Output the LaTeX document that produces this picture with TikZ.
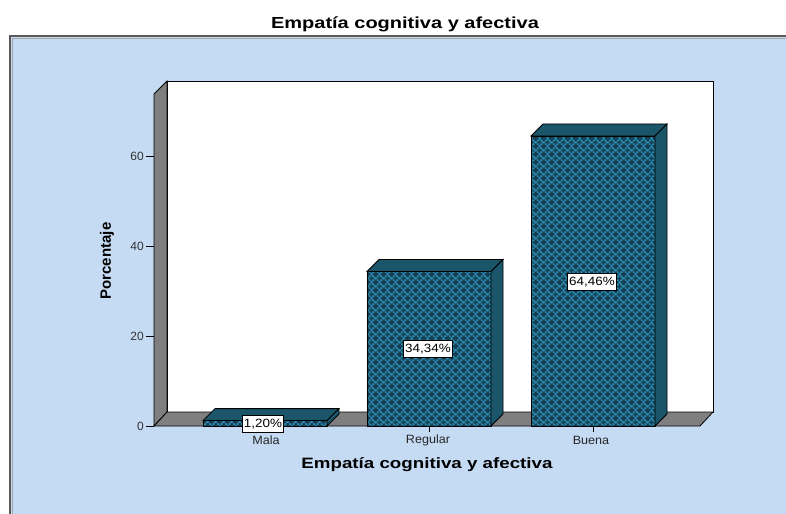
\documentclass[tikz,border=0pt]{standalone}
\usepackage{fontspec}
\setmainfont{Liberation Sans}
\usetikzlibrary{patterns}
\definecolor{panelblue}{HTML}{C5DBF4}
\definecolor{panelline}{HTML}{5A5A5A}
\definecolor{barfront}{HTML}{2A97C0}
\definecolor{crossdark}{HTML}{173F52}
\definecolor{bardark}{HTML}{1B5569}
\definecolor{wallgray}{HTML}{7F7F7F}
\newcommand\pcross[2]{%
  \pgfpathrectangle{\pgfpoint{#1pt-2.2pt}{#2pt-0.7pt}}{\pgfpoint{4.4pt}{1.4pt}}%
  \pgfpathrectangle{\pgfpoint{#1pt-0.7pt}{#2pt-2.2pt}}{\pgfpoint{1.4pt}{4.4pt}}%
}
\pgfdeclarepatternformonly{spssplus}{\pgfpointorigin}{\pgfpoint{6pt}{6pt}}{\pgfpoint{6pt}{6pt}}{%
  \pcross{3}{3}\pcross{0}{0}\pcross{6}{0}\pcross{0}{6}\pcross{6}{6}%
  \pgfusepath{fill}%
}
\newcommand\drawspssbar[2]{%
  \pgfmathsetmacro\bt{426-4.5*#2}%
  \fill[barfront] (#1,\bt) rectangle (#1+124,426);
  \fill[pattern=spssplus, pattern color=crossdark] (#1,\bt) rectangle (#1+124,426);
  \draw[edge] (#1,\bt) rectangle (#1+124,426);
  \filldraw[edge, fill=bardark] (#1,\bt) -- (#1+12,\bt-12) -- (#1+136,\bt-12) -- (#1+124,\bt) -- cycle;
  \filldraw[edge, fill=bardark] (#1+124,\bt) -- (#1+136,\bt-12) -- (#1+136,414) -- (#1+124,426) -- cycle;
}
\begin{document}
\begin{tikzpicture}[x=0.75pt, y=-0.75pt,
  edge/.style={draw=black, line width=0.6pt},
  pct/.style={draw=black, fill=white, line width=0.5pt, inner xsep=1pt, inner ysep=2.6pt, xscale=1.12,
    font=\fontsize{9}{10}\selectfont},
  ticklbl/.style={anchor=east, inner sep=0pt, text=black!80,
    font=\fontsize{9}{10}\selectfont},
  catlbl/.style={inner sep=0pt, xscale=1.05, text=black!85,
    font=\fontsize{9}{10}\selectfont},
  axtitle/.style={inner sep=0pt, font=\bfseries\fontsize{11.25}{13}\selectfont},
]
\useasboundingbox (0,0) rectangle (786,514);
% panel
\fill[white] (0,0) rectangle (786,514);
\fill[panelblue] (10,36) rectangle (792,520);
\draw[panelline, line width=1.5pt] (10,520) -- (10,36) -- (792,36);
\draw[black!35, line width=0.5pt] (12,520) -- (12,38) -- (792,38);
% back wall
\filldraw[edge, fill=white] (167,81) rectangle (713,412);
% left wall
\filldraw[edge, fill=wallgray] (154,94) -- (167,81) -- (167,412) -- (154,426) -- cycle;
% floor
\filldraw[edge, fill=wallgray] (154,426) -- (167,412) -- (713,412) -- (700,426) -- cycle;
% y ticks
\foreach \v in {0,20,40,60}{
  \draw[black, line width=0.6pt] (146,426-4.5*\v) -- (154,426-4.5*\v);
  \node[ticklbl] (t\v) at (144,426-4.5*\v) {\v};
}
% category ticks
\foreach \c in {265,429,593}{
  \draw[black, line width=0.6pt] (\c,426) -- (\c,432);
}
% bars
\drawspssbar{203}{1.20}
\drawspssbar{367}{34.34}
\drawspssbar{531}{64.46}
% value labels
\node[pct] (l1) at (263,424) {1,20\%};
\node[pct] (l2) at (428,349) {34,34\%};
\node[pct] (l3) at (592,282) {64,46\%};
% category labels
\node[catlbl] (c1) at (266,440) {Mala};
\node[catlbl] (c2) at (428,440) {Regular};
\node[catlbl] (c3) at (591,440) {Buena};
% titles
\node[axtitle, xscale=1.25] (xt) at (427,465) {Empatía cognitiva y afectiva};
\node[axtitle, rotate=90] (yt) at (107,261) {Porcentaje};
\node[inner sep=0pt, xscale=1.25, font=\bfseries\fontsize{12}{13}\selectfont] (title) at (405,24) {Empatía cognitiva y afectiva};
\end{tikzpicture}
\end{document}
